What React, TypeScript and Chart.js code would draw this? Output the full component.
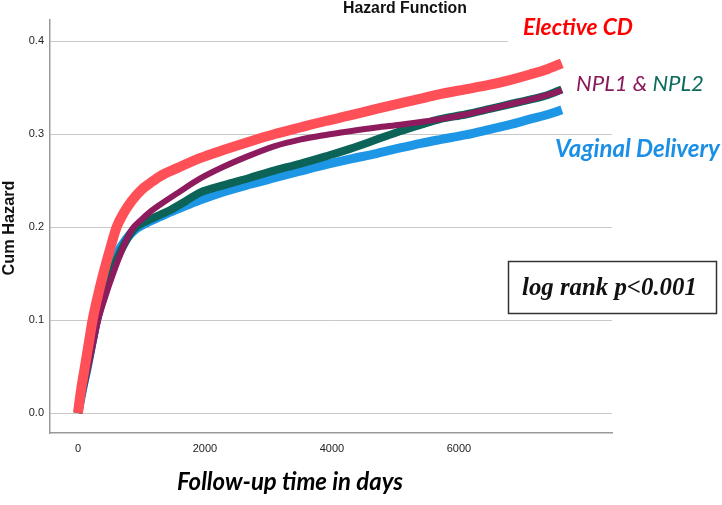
import React, { useEffect, useRef } from "react";
import { Chart, registerables } from "chart.js";

Chart.register(...registerables);

// Cumulative hazard by delivery group (follow-up time in days)
const electiveDays = [0, 50, 110, 170, 231, 310, 400, 500, 610, 720, 845, 1000, 1134, 1291, 1554, 1921, 2300, 2709, 3100, 3496, 3900, 4283, 4700, 5071, 5400, 5701, 6100, 6488, 6800, 7118, 7400, 7620];
const electiveHazard = [0, 0.025, 0.05, 0.075, 0.1, 0.125, 0.15, 0.175, 0.2, 0.215, 0.228, 0.24, 0.247, 0.2545, 0.263, 0.274, 0.283, 0.292, 0.3, 0.307, 0.314, 0.32, 0.327, 0.333, 0.338, 0.343, 0.348, 0.353, 0.358, 0.364, 0.37, 0.376];

const npl1Days = [0, 80, 163, 240, 320, 430, 555, 700, 845, 1000, 1150, 1291, 1600, 1921, 2300, 2709, 3100, 3496, 3900, 4283, 4700, 5071, 5400, 5701, 6100, 6488, 6800, 7118, 7400, 7620];
const npl1Hazard = [0, 0.025, 0.05, 0.075, 0.1, 0.125, 0.15, 0.176, 0.197, 0.208, 0.217, 0.224, 0.238, 0.252, 0.265, 0.277, 0.287, 0.294, 0.299, 0.303, 0.307, 0.31, 0.313, 0.316, 0.321, 0.327, 0.332, 0.337, 0.342, 0.347];

const npl2Days = [0, 80, 150, 225, 300, 400, 520, 680, 870, 1100, 1291, 1449, 1700, 1921, 2300, 2709, 3100, 3496, 3900, 4283, 4700, 5071, 5400, 5701, 6100, 6488, 6800, 7118, 7400, 7620];
const npl2Hazard = [0, 0.027, 0.05, 0.075, 0.1, 0.125, 0.15, 0.175, 0.197, 0.207, 0.213, 0.218, 0.228, 0.237, 0.245, 0.253, 0.261, 0.268, 0.276, 0.284, 0.294, 0.303, 0.31, 0.316, 0.321, 0.327, 0.332, 0.337, 0.342, 0.348];

const vaginalDays = [0, 80, 150, 220, 290, 380, 480, 620, 760, 898, 1100, 1291, 1449, 1700, 1921, 2300, 2709, 3100, 3496, 3900, 4283, 4700, 5071, 5400, 5701, 6100, 6488, 6800, 7118, 7400, 7620];
const vaginalHazard = [0, 0.028, 0.05, 0.075, 0.1, 0.125, 0.15, 0.172, 0.187, 0.197, 0.205, 0.211, 0.216, 0.223, 0.229, 0.238, 0.246, 0.253, 0.26, 0.267, 0.273, 0.279, 0.285, 0.29, 0.294, 0.299, 0.305, 0.31, 0.316, 0.321, 0.326];

const xTickValues = [0, 2000, 4000, 6000];
const yTickValues = [0, 0.1, 0.2, 0.3, 0.4];

const toPoints = (days: number[], values: number[]) =>
  days.map((d, i) => ({ x: d, y: values[i] }));

const LABEL_FAMILY = "Lato, 'Open Sans', sans-serif";

// Sets a font whose rendered width equals the given width.
function fitFont(ctx: CanvasRenderingContext2D, text: string, style: string, family: string, width: number) {
  ctx.font = `${style} 20px ${family}`;
  const w = ctx.measureText(text).width;
  const size = (20 * width) / w;
  ctx.font = `${style} ${size}px ${family}`;
  return size;
}

const annotations = {
  id: "hazardAnnotations",
  afterDraw(chart: Chart) {
    const ctx = chart.ctx;
    ctx.save();
    ctx.textAlign = "left";
    ctx.textBaseline = "alphabetic";

    // label background behind "Elective CD"
    ctx.fillStyle = "#ffffff";
    ctx.fillRect(508, 8, 214, 40);

    // chart title
    fitFont(ctx, "Hazard Function", "bold", "'Liberation Sans', Arial, sans-serif", 124);
    ctx.fillStyle = "#111111";
    ctx.fillText("Hazard Function", 343, 13);

    // y axis title
    ctx.save();
    ctx.translate(14, 228);
    ctx.rotate(-Math.PI / 2);
    ctx.textAlign = "center";
    fitFont(ctx, "Cum Hazard", "bold", "'Liberation Sans', Arial, sans-serif", 95);
    ctx.fillStyle = "#111111";
    ctx.fillText("Cum Hazard", 0, 0);
    ctx.restore();

    // x axis title
    fitFont(ctx, "Follow-up time in days", "italic bold", LABEL_FAMILY, 226);
    ctx.fillStyle = "#000000";
    ctx.fillText("Follow-up time in days", 177, 490);

    // group labels
    fitFont(ctx, "Elective CD", "italic bold", LABEL_FAMILY, 110);
    ctx.fillStyle = "#ff0000";
    ctx.fillText("Elective CD", 523, 35);

    fitFont(ctx, "NPL1 & NPL2", "italic", LABEL_FAMILY, 128);
    ctx.fillStyle = "#8b1a5a";
    ctx.fillText("NPL1 & ", 576, 90.5);
    const prefixW = ctx.measureText("NPL1 & ").width;
    ctx.fillStyle = "#0d6b5e";
    ctx.fillText("NPL2", 576 + prefixW, 90.5);

    fitFont(ctx, "Vaginal Delivery", "italic bold", LABEL_FAMILY, 165);
    ctx.fillStyle = "#1b8fe6";
    ctx.fillText("Vaginal Delivery", 555, 156.5);

    // log-rank box
    ctx.fillStyle = "#ffffff";
    ctx.fillRect(508, 261, 208, 52);
    ctx.strokeStyle = "#333333";
    ctx.lineWidth = 1.5;
    ctx.strokeRect(508.5, 261.5, 208, 52);
    fitFont(ctx, "log rank p<0.001", "italic bold", "'Liberation Serif', 'Times New Roman', serif", 175);
    ctx.fillStyle = "#111111";
    ctx.fillText("log rank p<0.001", 522, 295);

    ctx.restore();
  },
};

export default function App() {
  const canvasRef = useRef<HTMLCanvasElement | null>(null);

  useEffect(() => {
    const canvas = canvasRef.current;
    if (!canvas) return;
    const lineDefaults = {
      pointRadius: 0,
      pointHoverRadius: 0,
      fill: false,
      cubicInterpolationMode: "monotone" as const,
      borderCapStyle: "butt" as const,
      borderJoinStyle: "round" as const,
    };
    const chart = new Chart(canvas, {
      type: "line",
      data: {
        datasets: [
          { ...lineDefaults, label: "Elective CD", data: toPoints(electiveDays, electiveHazard), borderColor: "#ff5058", borderWidth: 10 },
          { ...lineDefaults, label: "NPL1", data: toPoints(npl1Days, npl1Hazard), borderColor: "#8e1b5e", borderWidth: 6 },
          { ...lineDefaults, label: "NPL2", data: toPoints(npl2Days, npl2Hazard), borderColor: "#0b6457", borderWidth: 8 },
          { ...lineDefaults, label: "Vaginal Delivery", data: toPoints(vaginalDays, vaginalHazard), borderColor: "#1e96e6", borderWidth: 9 },
        ],
      },
      options: {
        animation: false,
        responsive: false,
        devicePixelRatio: 1,
        parsing: false as any,
        layout: { padding: { top: 20, right: 110, left: 0, bottom: 0 } },
        plugins: {
          legend: { display: false },
          tooltip: { enabled: false },
          title: { display: false },
        },
        scales: {
          x: {
            type: "linear",
            min: -440,
            max: 8410,
            afterBuildTicks: (scale: any) => {
              scale.ticks = xTickValues.map((value) => ({ value }));
            },
            afterFit: (scale: any) => {
              scale.height = 72;
            },
            grid: { display: false, drawTicks: false },
            border: { display: true, color: "#9a9a9a", width: 1.5 },
            ticks: {
              padding: 9,
              color: "#222222",
              font: { family: "'Liberation Sans', Arial, sans-serif", size: 11 },
              callback: (v: any) => String(v),
            },
          },
          y: {
            type: "linear",
            min: -0.0215,
            max: 0.4226,
            afterBuildTicks: (scale: any) => {
              scale.ticks = yTickValues.map((value) => ({ value }));
            },
            afterFit: (scale: any) => {
              scale.width = 50;
            },
            grid: { color: "#c8c8c8", lineWidth: 1, drawTicks: false },
            border: { display: true, color: "#9a9a9a", width: 1.5 },
            ticks: {
              padding: 6,
              color: "#222222",
              font: { family: "'Liberation Sans', Arial, sans-serif", size: 11 },
              callback: (v: any) => Number(v).toFixed(1),
            },
          },
        },
      },
      plugins: [annotations],
    });
    return () => chart.destroy();
  }, []);

  return (
    <div style={{ position: "absolute", left: 0, top: 0, width: 722, height: 505, background: "#ffffff" }}>
      <canvas ref={canvasRef} width={722} height={505} style={{ display: "block", width: 722, height: 505 }} />
    </div>
  );
}
